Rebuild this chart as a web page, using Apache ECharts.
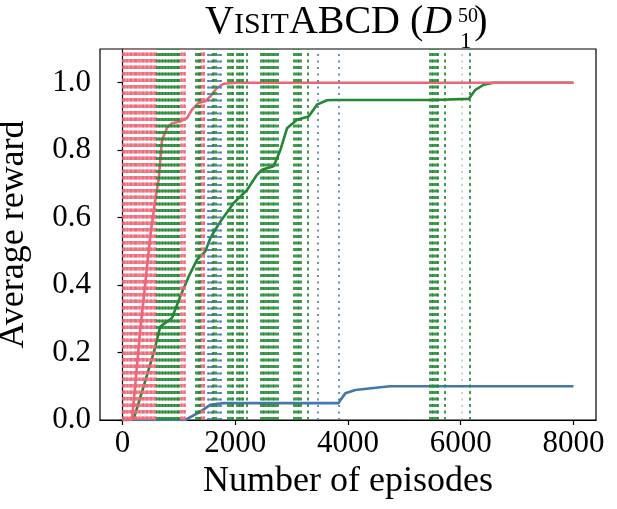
<!DOCTYPE html>
<html lang="en">
<head>
  <meta charset="UTF-8">
  <title>VisitABCD</title>
  <script src="https://cdn.jsdelivr.net/npm/echarts@6.0.0/dist/echarts.min.js"></script>
  <style>
    html, body {
      margin: 0;
      padding: 0;
      background: #fff;
    }

    #chart-main {
      width: 617px;
      height: 509px;
    }
  </style>
</head>
<body>
<div id="chart-main"></div>

<script type="text/javascript">
  // tick labels
  const xTicks = [0, 2000, 4000, 6000, 8000]
  const yTicks = [0, 0.2, 0.4, 0.6, 0.8, 1.0]

  // average reward curves (episode, reward)
  const redX = [0, 167, 240, 314, 400, 492, 570, 640, 700, 788, 877, 1024, 1143, 1232, 1349, 1468, 1557, 1675, 1793, 2000, 3000, 4000, 5000, 6000, 7000, 8000]
  const redY = [0, 0, 0.13, 0.267, 0.40, 0.545, 0.64, 0.712, 0.83, 0.866, 0.880, 0.885, 0.895, 0.92, 0.94, 0.945, 0.959, 0.985, 0.997, 1.0, 1.0, 1.0, 1.0, 1.0, 1.0, 1.0]

  const greenX = [0, 192, 373, 550, 669, 877, 1024, 1172, 1320, 1468, 1557, 1645, 1734, 1970, 2208, 2385, 2474, 2680, 2799, 2918, 3095, 3301, 3450, 3628, 3746, 4500, 5500, 6142, 6260, 6408, 6580, 7000, 8000]
  const greenY = [0, 0, 0.099, 0.198, 0.277, 0.302, 0.366, 0.425, 0.475, 0.5, 0.539, 0.564, 0.588, 0.643, 0.682, 0.727, 0.742, 0.752, 0.80, 0.865, 0.89, 0.9, 0.935, 0.948, 0.949, 0.949, 0.949, 0.952, 0.979, 0.994, 1.0, 1.0, 1.0]

  const blueX = [0, 1113, 1380, 1557, 1793, 3834, 3864, 3953, 4130, 4574, 4751, 8000]
  const blueY = [0, 0, 0.025, 0.045, 0.05, 0.05, 0.059, 0.079, 0.089, 0.097, 0.1, 0.1]

  // episodes marked with vertical lines
  const redMarks = [0, 20, 45, 70, 95, 120, 140, 165, 190, 215, 240, 260, 285, 310, 335, 360, 380, 405, 430, 455, 480, 500, 525, 550, 575, 595,
    1030, 1055, 1080, 1105, 1385, 1410, 1435, 1445]
  const greenMarks = [610, 635, 660, 690, 715, 740, 770, 795, 820, 850, 875, 900, 930, 955, 980, 1005,
    1305, 1330, 1355, 1375, 1595, 1625, 1650, 1875, 1905, 1935, 1960, 2025, 2055, 2085, 2115, 2140, 2195,
    2450, 2480, 2510, 2540, 2570, 2600, 2630, 2660, 2690, 2720, 2745,
    3040, 3070, 3100, 3130, 3160, 3280, 5450, 5480, 5510, 5540, 5570, 5600, 5720, 6160]
  const greenFaintMarks = [6015]
  const blueMarks = [1505, 1535, 1565, 1585, 1690, 1720, 1740, 3460, 3840]

  const RED = '#EE6677'
  const GREEN = '#228833'
  const BLUE = '#4477AA'
  const FONT = 'Liberation Serif'

  function pairs(xs, ys) {
    return xs.map((x, i) => [x, ys[i]])
  }

  function markSeries(marks, color, dash, opacity) {
    return {
      type: 'line',
      data: [],
      z: 1,
      silent: true,
      markLine: {
        silent: true,
        animation: false,
        symbol: ['none', 'none'],
        label: {show: false},
        lineStyle: {
          color: color,
          width: 2,
          type: dash,
          opacity: opacity,
          cap: 'butt'
        },
        emphasis: {disabled: true},
        data: marks.map(x => ({xAxis: x}))
      }
    }
  }

  function curve(xs, ys, color) {
    return {
      type: 'line',
      data: pairs(xs, ys),
      z: 3,
      showSymbol: false,
      animation: false,
      lineStyle: {color: color, width: 2.6},
      itemStyle: {color: color}
    }
  }

  let echartItem = echarts.init(document.getElementById('chart-main'))

  let option = {
    backgroundColor: '#fff',
    animation: false,
    title: [{
      left: 205,
      top: -4,
      padding: 0,
      text: '{a|V}{b|ISIT}{a|ABCD (}{i|D}{sp| }{a|)}',
      textStyle: {
        fontWeight: 'normal',
        rich: {
          a: {fontFamily: FONT, fontSize: 40, fontWeight: 'normal', color: '#000', lineHeight: 46, verticalAlign: 'bottom'},
          b: {fontFamily: FONT, fontSize: 30, fontWeight: 'normal', color: '#000', lineHeight: 46, verticalAlign: 'bottom', padding: [0, 0, 2, 0]},
          i: {fontFamily: FONT, fontSize: 40, fontWeight: 'normal', fontStyle: 'italic', color: '#000', lineHeight: 46, verticalAlign: 'bottom'},
          sp: {fontSize: 10, width: 22, lineHeight: 46}
        }
      }
    }, {
      left: 458,
      top: 7,
      padding: 0,
      text: '50',
      textStyle: {fontFamily: FONT, fontSize: 20, fontWeight: 'normal', color: '#000'}
    }, {
      left: 460,
      top: 30,
      padding: 0,
      text: '1',
      textStyle: {fontFamily: FONT, fontSize: 23, fontWeight: 'normal', color: '#000'}
    }],
    grid: {
      left: 100,
      right: 21,
      top: 49,
      bottom: 89,
      show: true,
      borderColor: '#000',
      borderWidth: 1.2,
      containLabel: false,
      outerBoundsMode: 'none'
    },
    xAxis: {
      type: 'value',
      min: -400,
      max: 8400,
      name: 'Number of episodes',
      nameLocation: 'middle',
      nameGap: 44,
      nameTextStyle: {fontFamily: FONT, fontSize: 36, color: '#000'},
      axisLine: {show: true, onZero: false, lineStyle: {color: '#000', width: 1.2}},
      axisTick: {show: true, length: 5, lineStyle: {color: '#000', width: 1.2}, customValues: xTicks},
      axisLabel: {
        fontFamily: FONT, fontSize: 31, color: '#000', margin: 8, customValues: xTicks,
        formatter: v => String(v)
      },
      splitLine: {show: false}
    },
    yAxis: {
      type: 'value',
      min: 0,
      max: 1.1,
      name: 'Average reward',
      nameLocation: 'middle',
      nameGap: 68,
      nameTextStyle: {fontFamily: FONT, fontSize: 36, color: '#000'},
      axisLine: {show: true, lineStyle: {color: '#000', width: 1.2}},
      axisTick: {show: true, length: 5, lineStyle: {color: '#000', width: 1.2}, customValues: yTicks},
      axisLabel: {
        fontFamily: FONT, fontSize: 31, color: '#000', margin: 9, customValues: yTicks,
        formatter: v => v.toFixed(1)
      },
      splitLine: {show: false}
    },
    series: [
      markSeries(redMarks, RED, [3.5, 3], 0.8),
      markSeries(greenMarks, GREEN, [3, 3.5], 0.85),
      markSeries(greenFaintMarks, GREEN, [2, 4.5], 0.3),
      markSeries(blueMarks, BLUE, [2, 4.5], 0.8),
      curve(blueX, blueY, BLUE),
      curve(greenX, greenY, GREEN),
      curve(redX, redY, RED)
    ]
  }

  echartItem.setOption(option)
</script>
</body>
</html>
